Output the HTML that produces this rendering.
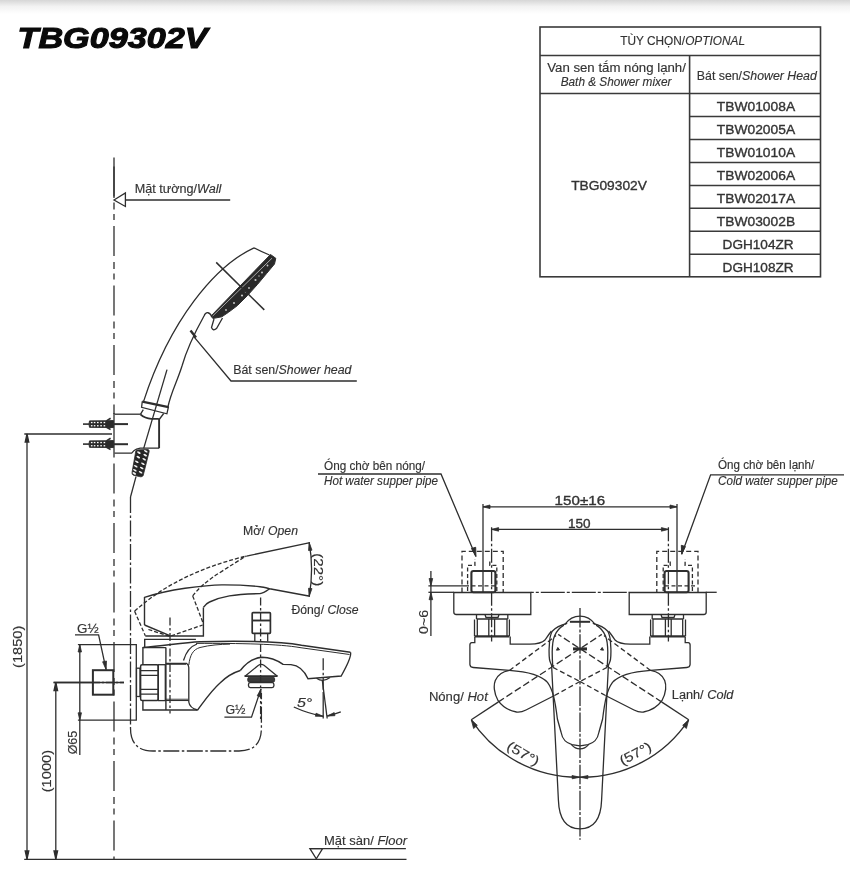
<!DOCTYPE html>
<html><head><meta charset="utf-8">
<style>
html,body{margin:0;padding:0;background:#fff;}
body{width:850px;height:894px;overflow:hidden;position:relative;}
#shade{position:absolute;left:0;top:0;width:850px;height:14px;background:linear-gradient(#d6d6d6,#f2f2f2 45%,#fff);}
svg{position:absolute;left:0;top:0;will-change:transform;}
text{font-family:"Liberation Sans",sans-serif;fill:#333;stroke:#333;stroke-width:0.15;}
.num text, text.num{stroke-width:0.35;}
</style></head><body>
<div id="shade"></div>
<svg width="850" height="894" viewBox="0 0 850 894">
<!-- title -->
<text x="17.5" y="48" font-size="29.6" font-weight="bold" font-style="italic" style="fill:#0a0a0a;stroke:#0a0a0a;stroke-width:1.1" textLength="190" lengthAdjust="spacingAndGlyphs">TBG09302V</text>

<!-- table -->
<g id="table" stroke="#3a3a3a" stroke-width="1.6" fill="none">
<rect x="540" y="27" width="280.5" height="249.8"/>
<line x1="540" y1="55.5" x2="820.5" y2="55.5"/>
<line x1="540" y1="93.5" x2="820.5" y2="93.5"/>
<line x1="689.6" y1="55.5" x2="689.6" y2="276.8"/>
<line x1="689.6" y1="116.5" x2="820.5" y2="116.5"/>
<line x1="689.6" y1="139.5" x2="820.5" y2="139.5"/>
<line x1="689.6" y1="162.5" x2="820.5" y2="162.5"/>
<line x1="689.6" y1="185.5" x2="820.5" y2="185.5"/>
<line x1="689.6" y1="208.3" x2="820.5" y2="208.3"/>
<line x1="689.6" y1="231.2" x2="820.5" y2="231.2"/>
<line x1="689.6" y1="254.2" x2="820.5" y2="254.2"/>
</g>
<g id="tabletext" font-size="12">
<text x="620.3" y="45.3" textLength="124.7" lengthAdjust="spacingAndGlyphs">TÙY CHỌN/<tspan font-style="italic">OPTIONAL</tspan></text>
<text x="547.2" y="71.9" textLength="138.7" lengthAdjust="spacingAndGlyphs">Van sen tắm nóng lạnh/</text>
<text x="560.7" y="86" font-style="italic" textLength="110.7" lengthAdjust="spacingAndGlyphs">Bath &amp; Shower mixer</text>
<text x="696.8" y="80" textLength="120" lengthAdjust="spacingAndGlyphs">Bát sen/<tspan font-style="italic">Shower Head</tspan></text>
<text class="num" x="571.2" y="189.8" font-size="13.4" textLength="75.7" lengthAdjust="spacingAndGlyphs">TBG09302V</text>
<g font-size="13.4" class="num">
<text x="716.8" y="111.2" textLength="78.3" lengthAdjust="spacingAndGlyphs">TBW01008A</text>
<text x="716.8" y="134.2" textLength="78.3" lengthAdjust="spacingAndGlyphs">TBW02005A</text>
<text x="716.8" y="157.2" textLength="78.3" lengthAdjust="spacingAndGlyphs">TBW01010A</text>
<text x="716.8" y="180.2" textLength="78.3" lengthAdjust="spacingAndGlyphs">TBW02006A</text>
<text x="716.8" y="203.1" textLength="78.3" lengthAdjust="spacingAndGlyphs">TBW02017A</text>
<text x="716.8" y="226.0" textLength="78.3" lengthAdjust="spacingAndGlyphs">TBW03002B</text>
<text x="722.6" y="248.9" textLength="71" lengthAdjust="spacingAndGlyphs">DGH104ZR</text>
<text x="722.6" y="271.8" textLength="71" lengthAdjust="spacingAndGlyphs">DGH108ZR</text>
</g>
</g>

<!-- DRAWING -->
<g id="drawing" stroke="#2e2e2e" stroke-width="1.3" fill="none" stroke-linecap="butt">

<!-- wall line -->
<line x1="114" y1="157.5" x2="114" y2="198"/>
<line x1="114" y1="166.5" x2="114" y2="414" stroke-dasharray="30 6 7 4.5 6 6"/>
<line x1="114" y1="413" x2="114" y2="457"/>
<line x1="114" y1="457" x2="114" y2="859.5" stroke-dasharray="30 6 7 4.5 6 6" stroke-dashoffset="53"/>
<!-- wall arrow -->
<line x1="125.5" y1="200" x2="230.2" y2="200"/>
<path d="M114,200 L125.4,193 L125.4,206.5 Z"/>
<!-- floor -->
<line x1="24.2" y1="859.3" x2="406.5" y2="859.3"/>
<line x1="309.9" y1="848.6" x2="405.9" y2="848.6"/>
<path d="M309.9,848.6 L322.6,848.6 L316.3,858.8 Z"/>
<!-- dim 1850 -->
<line x1="24.3" y1="434" x2="112" y2="434"/>
<line x1="27" y1="434" x2="27" y2="859"/>
<path d="M27,434 L25.2,442 L28.8,442 Z" fill="#2e2e2e"/>
<path d="M27,859 L25.2,851 L28.8,851 Z" fill="#2e2e2e"/>
<!-- dim 1000 -->
<line x1="53.6" y1="682.5" x2="124" y2="682.5" stroke-dasharray="none"/>
<line x1="55.8" y1="682.5" x2="55.8" y2="859"/>
<path d="M55.8,682.5 L54,690.5 L57.6,690.5 Z" fill="#2e2e2e"/>
<path d="M55.8,859 L54,851 L57.6,851 Z" fill="#2e2e2e"/>
<!-- shower head -->
<path d="M254,247.8 C 215,266 170,320 143.5,401.6"/>
<path d="M254,247.8 Q262,252 269.5,255"/>
<path d="M270.5,254.5 L275.8,258.3 L274.5,264 L266.6,273.5 L257.6,284.3 L247.5,295.5 L237.5,305.5 L228.5,312.3 L221.8,316.8 L212.9,318.5 L211,316 Z" fill="#2a2a2a" stroke-width="1"/>
<g fill="#c8c8c8" stroke="none"><circle cx="267.5" cy="265.5" r="0.9"/><circle cx="262" cy="272.5" r="1"/><circle cx="255.5" cy="280" r="1.1"/><circle cx="249" cy="288" r="0.9"/><circle cx="242" cy="295.5" r="1.1"/><circle cx="234" cy="303" r="1"/><circle cx="226" cy="310" r="0.9"/><circle cx="259" cy="276" r="0.7"/><circle cx="245.5" cy="292" r="0.7"/></g>
<line x1="272" y1="258.2" x2="212.5" y2="316.2" stroke="#ddd" stroke-width="0.7"/>
<line x1="216.2" y1="262.4" x2="264.3" y2="309.9" stroke-width="1.5"/>
<path d="M212,317 C210,312 206,311 204,316 C199,325 188,345 182,366 C177,382 171,392 167.9,407"/>
<path d="M222.5,318 L216.5,328.5 Q213,331.5 211.5,327.5 L214,319"/>
<!-- leader shower head -->
<path d="M193.8,336.7 L231,381 L356.8,381"/>
<path d="M190.5,330.5 L196,337.5" stroke-width="2.4"/>
<!-- collar -->
<path d="M142.3,401.6 L168.5,407.1" stroke-width="2.2"/>
<path d="M142.3,401.2 L141.6,407.3 L166.9,413.8 L168.5,406.7"/>
<path d="M143.3,409.6 L140.4,414.4 M163.7,413.5 L158.8,420"/>
<path d="M140.4,414.4 Q145,418.5 151.4,418.9 L158.8,418.9" stroke-width="1.9"/>
<!-- bracket -->
<path d="M114.5,414.2 L140.2,414.2"/>
<path d="M159.1,418.7 L159.1,448.2" stroke-width="1.9"/>
<path d="M159.1,448.2 L140.2,448.2 Q136,449 134.2,450.4 L131.7,453.2 L114.5,453.2"/>
<line x1="114" y1="424.1" x2="128" y2="424.1" stroke-width="2"/>
<line x1="114" y1="444.2" x2="128" y2="444.2" stroke-width="2"/>
<!-- hose through -->
<line x1="167" y1="369.6" x2="143.7" y2="448.4"/>
<line x1="136" y1="476.6" x2="130.5" y2="497"/>
<line x1="130.5" y1="497" x2="130.5" y2="728" stroke-dasharray="16 2.5 2.5 2.5"/>
<path d="M130.5,728 Q130.5,751 153,751 L239,751 Q261.4,751 261.4,728 L261.4,693" stroke-dasharray="16 2.5 2.5 2.5"/>
<g>
<line x1="83" y1="424.1" x2="89" y2="424.1" stroke-width="1.6"/>
<path d="M89.5,420.90000000000003 Q88.5,424.1 89.5,427.3 L106,427.40000000000003 L113.5,427.6 L113.5,420.6 L106,420.8 Z" fill="#2a2a2a" stroke-width="1"/>
<path d="M106.5,420.90000000000003 L110.6,418.3 M106.5,427.3 L110.6,429.5" stroke-width="1.6"/>
<g fill="#fff" stroke="none"><rect x="90.9" y="421.90000000000003" width="1.6" height="1.3"/><rect x="90.9" y="425.1" width="1.6" height="1.3"/><rect x="93.8" y="421.90000000000003" width="1.6" height="1.3"/><rect x="93.8" y="425.1" width="1.6" height="1.3"/><rect x="97.0" y="421.90000000000003" width="1.6" height="1.3"/><rect x="97.0" y="425.1" width="1.6" height="1.3"/><rect x="100.3" y="421.90000000000003" width="1.6" height="1.3"/><rect x="100.3" y="425.1" width="1.6" height="1.3"/><rect x="103.6" y="421.90000000000003" width="1.6" height="1.3"/><rect x="103.6" y="425.1" width="1.6" height="1.3"/></g></g>
<g>
<line x1="83" y1="444.1" x2="89" y2="444.1" stroke-width="1.6"/>
<path d="M89.5,440.90000000000003 Q88.5,444.1 89.5,447.3 L106,447.40000000000003 L113.5,447.6 L113.5,440.6 L106,440.8 Z" fill="#2a2a2a" stroke-width="1"/>
<path d="M106.5,440.90000000000003 L110.6,438.3 M106.5,447.3 L110.6,449.5" stroke-width="1.6"/>
<g fill="#fff" stroke="none"><rect x="90.9" y="441.90000000000003" width="1.6" height="1.3"/><rect x="90.9" y="445.1" width="1.6" height="1.3"/><rect x="93.8" y="441.90000000000003" width="1.6" height="1.3"/><rect x="93.8" y="445.1" width="1.6" height="1.3"/><rect x="97.0" y="441.90000000000003" width="1.6" height="1.3"/><rect x="97.0" y="445.1" width="1.6" height="1.3"/><rect x="100.3" y="441.90000000000003" width="1.6" height="1.3"/><rect x="100.3" y="445.1" width="1.6" height="1.3"/><rect x="103.6" y="441.90000000000003" width="1.6" height="1.3"/><rect x="103.6" y="445.1" width="1.6" height="1.3"/></g></g>
<path d="M135.8,451 Q137,449.8 139,449.8 L148,449.5 Q149.6,450 149.2,451.5 L143.2,475.5 Q142.5,477 140.5,476.8 L133.5,475.3 Q131.6,474.5 132,472.5 Z" fill="#262626" stroke-width="0.8"/>
<g fill="#f4f4f4" stroke="none"><ellipse cx="138.9" cy="452.6" rx="2" ry="0.9" transform="rotate(28 138.9 452.6)"/><ellipse cx="138.3" cy="457.1" rx="2" ry="0.9" transform="rotate(28 138.3 457.1)"/><ellipse cx="136.8" cy="461.7" rx="2" ry="0.9" transform="rotate(28 136.8 461.7)"/><ellipse cx="135.8" cy="466.2" rx="2" ry="0.9" transform="rotate(28 135.8 466.2)"/><ellipse cx="134.9" cy="470.3" rx="2" ry="0.9" transform="rotate(28 134.9 470.3)"/><ellipse cx="134.3" cy="473.4" rx="2" ry="0.9" transform="rotate(28 134.3 473.4)"/><ellipse cx="145.8" cy="451.2" rx="2" ry="0.9" transform="rotate(28 145.8 451.2)"/><ellipse cx="145.2" cy="455.1" rx="2" ry="0.9" transform="rotate(28 145.2 455.1)"/><ellipse cx="144.2" cy="459.3" rx="2" ry="0.9" transform="rotate(28 144.2 459.3)"/><ellipse cx="142.9" cy="463.7" rx="2" ry="0.9" transform="rotate(28 142.9 463.7)"/><ellipse cx="141.7" cy="468.0" rx="2" ry="0.9" transform="rotate(28 141.7 468.0)"/><ellipse cx="140.6" cy="472.2" rx="2" ry="0.9" transform="rotate(28 140.6 472.2)"/></g>


<!-- SIDE VIEW FAUCET -->
<path d="M77.9,644.6 L136.3,644.6 L136.3,720.2 L77.9,720.2"/>
<rect x="92.9" y="670.2" width="20.4" height="24.5" stroke-width="2"/>
<line x1="53.6" y1="682.5" x2="92" y2="682.5"/>
<line x1="92" y1="682.5" x2="124" y2="682.5" stroke-dasharray="8 2 2 2"/>
<path d="M75,634.8 L98.6,634.8 L106.1,669.6"/>
<path d="M106.1,669.6 L102.6,661.8 L106.5,661 Z" fill="#2e2e2e" stroke-width="0.8"/>
<line x1="79.8" y1="644.6" x2="79.8" y2="755"/>
<path d="M79.8,644.6 L78.1,652 L81.5,652 Z M79.8,720.2 L78.1,712.8 L81.5,712.8 Z" fill="#2e2e2e" stroke-width="0.8"/>
<rect x="136.5" y="668.2" width="3.5" height="28.3"/>
<rect x="140.6" y="664.7" width="17.6" height="35.9" rx="1.5" stroke-width="1.5"/>
<path d="M140.6,670.6 L158.2,670.6 M140.6,675.3 L158.2,675.3 M140.6,689.4 L158.2,689.4 M140.6,694.1 L158.2,694.1"/>
<rect x="158.2" y="664.7" width="7.1" height="35.9"/>
<path d="M142.9,664.7 L142.9,647.6 L165.9,647.6 M142.9,700.6 L142.9,710 L197.6,710 M165.9,647.6 L165.9,710" stroke-width="1.4"/>
<path d="M144.7,647.6 L144.7,639.4 L195.9,639.4" stroke-width="1.4"/>
<path d="M142.9,647.6 C165,646 182,642.5 200,641.8 C240,640.8 280,641.5 301.5,645.3 L350.4,652.2" stroke-width="1.5"/>
<path d="M196,643.4 C240,643.2 280,644 300,647.6 L349.5,654.5" stroke-width="1"/>
<path d="M350.4,652.2 Q352.2,656.5 341.2,676 L308,678.8 C305,672 300,665.5 291,664.6 L283.1,664.4 C276,659.5 270,657.3 262,657.3 C252,658 246,663 240.3,670.5" stroke-width="1.4"/>
<path d="M316.5,678.2 Q323,682.8 330,677.6"/>

<path d="M245,676.3 L258.5,665.2 Q261.2,663.6 264,665.2 L277.4,676.3"/>
<path d="M244.5,676.2 L277.5,676.2" stroke-width="1.8"/>
<rect x="247.8" y="677.2" width="26.8" height="4.8" rx="1.5" fill="#3a3a3a" stroke-width="1"/>
<rect x="248.5" y="682.6" width="25.4" height="5" rx="1.8" stroke-width="1.3"/>
<path d="M240.3,670.5 C232,673 226,677 220,683 C210,692 203,703 197.6,710" stroke-width="1.4"/>
<path d="M165.9,663.3 L186.5,663.3 Q188.8,664.5 188.8,667.6 L188.8,702 C189.3,706.5 192,708.5 197.6,710"/>
<path d="M165.9,700.4 L188.8,700.4"/>
<path d="M165.9,664.5 L186,664.5 M165.9,699.2 L188,699.2" stroke-width="0.8"/>
<path d="M183.5,660.5 C186,652 190,646.5 197,644"/>
<path d="M188.8,665 C190,655 193,649.5 200,647.5 C210,645 220,644.3 230,644.1" stroke-width="1"/>
<line x1="170" y1="617.5" x2="170" y2="713.5" stroke-dasharray="8 2.5 2.5 2.5"/>
<rect x="252.2" y="612.6" width="18.2" height="20.8" rx="0.8" stroke-width="1.7"/>
<line x1="252.2" y1="620.5" x2="270.4" y2="620.5" stroke-width="1.9"/>
<path d="M254.8,633.8 L254.8,641.5 M267.7,633.8 L267.7,641.5"/>
<line x1="260.6" y1="597.4" x2="260.6" y2="720" stroke-dasharray="8 2.5 2.5 2.5"/>
<!-- handle closed -->
<path d="M144.5,625 L144.5,597.4 C155,594 170,590.5 185,588.3 C198,586.5 210,585 221.8,584.9 C235,584.8 248,585.5 260,586.7 C263,587 266,587.8 269.6,588.7 L310,596.2" stroke-width="1.4"/>
<path d="M203.4,607.4 C205,605 207,603 209.5,602 C216,599 223,597 229.4,595.9 C240,594 250,593.8 260,593.6 C264,593 267,590.5 269.6,588.7" stroke-width="1.4"/>
<path d="M144.5,625 L169.8,635.6 M203.4,607.4 L203.4,636 L145.3,636" stroke-width="1.4"/>
<!-- handle open -->
<path d="M134.6,611.2 C170,579 214,564 246.2,556.1 L249,555.6 M134.6,611.2 L145.3,635.7 M192.7,595.9 C198,589 206,581 221.8,571.4 C230,566 238,561 244.7,556.9 L246.2,556.1 M192.7,595.9 L202.7,621.9 M148.4,629.5 L169.8,636.4 L202.7,625" stroke-dasharray="4 2"/>
<path d="M248.8,555.6 L310,542.6"/>
<path d="M309.2,542.6 Q314,569.5 309.2,596.2"/>
<path d="M309.2,542.6 L308.5,550.5 L312,550.2 Z M309.2,596.2 L308.5,588.3 L312,588.6 Z" fill="#2e2e2e" stroke-width="0.8"/>
<!-- 5 deg -->
<line x1="323.2" y1="658.3" x2="323.2" y2="692" stroke-dasharray="12 2.5 2.5 2.5"/>
<line x1="323.2" y1="692" x2="323.2" y2="718.5"/>
<line x1="322.3" y1="680.5" x2="327.2" y2="718.5"/>
<path d="M293.8,707 Q308,713.5 323.2,716.3 M327.2,716 Q334,714.5 340.8,711.9"/>
<path d="M323.2,716.3 L316,713.2 L315.4,716.3 Z M327.2,716 L334.2,712.6 L334.9,715.7 Z" fill="#2e2e2e" stroke-width="0.8"/>
<!-- G1/2 2 -->
<path d="M224.4,717.1 L251.5,717.1 L261,688.9"/>
<path d="M261,688.9 L260.6,697 L257.2,695.8 Z" fill="#2e2e2e" stroke-width="0.8"/>
<!-- FRONT VIEW -->
<g id="fhalf">
<path d="M462,592.5 L462,551.3 L503.2,551.3 L503.2,592.5" stroke-dasharray="5 3"/>
<path d="M467.6,591 L467.6,565.4 L474.9,565.4 L474.9,559 M496.8,591 L496.8,565.4 L489.8,565.4 L489.8,559" stroke-dasharray="4 2.5"/>
<rect x="471.4" y="571" width="24" height="21.3" rx="2" stroke-width="2.1"/>
<line x1="465" y1="585.9" x2="497" y2="585.9" stroke-dasharray="4 2.5"/>
<line x1="483" y1="504" x2="483" y2="592.5"/>
<line x1="491.6" y1="527.2" x2="491.6" y2="641.6" stroke-dasharray="14 2.5 2.5 2.5"/>
<path d="M453.8,592.5 L530.8,592.5 L530.8,614.5 L456.3,614.5 Q453.8,614.5 453.8,612 Z"/>
<path d="M476.5,614.5 L476.5,619 M507.8,614.5 L507.8,619 M485,614.5 L486,617.5 L498,617.5 L499,614.5"/>
<path d="M476.5,619 L507.8,619 M474.5,619.5 L474.5,636.2 M509.4,619.5 L509.4,636.2 M477.3,619.5 L477.3,636 M507,619.5 L507,636 M488.8,619 L488.8,636 M494.6,619 L494.6,636"/>
<path d="M474.5,636.3 L509.4,636.3" stroke-width="2.2"/>
<path d="M510.2,636.5 L510.2,644.2 L530,644.2 C538,644 542,643 545,640 C547,637 549,634 551.5,631"/>
<path d="M474.8,637 L474.8,642.6 L471.8,642.6 Q469.9,642.8 469.9,645 L469.9,664.5 Q470.2,667.4 473.2,667.5 L509.4,670.4 C525,671.5 540,674 547.5,682.4 C553,690 555,700 557.4,719 L561,732 C562.5,740 566,743 572,744.6 L580,745.8"/>
<path d="M571.7,744.8 Q575,748.8 580,748.8"/>
<path d="M564.8,624.4 C568.5,619.5 573.5,616.2 580,616.2"/>
<path d="M569.9,621.8 L580,621.8" stroke-width="2"/>
<path d="M567.2,623.4 C563,624.5 556,627 552.5,631 C550.5,634 550,637 549.6,641 L549.1,649 C549,653 549.2,657 549.5,659.5 C550,662 551,663.5 551.6,665.5 L558.4,800 C559,818 566,828.8 580,828.8"/>
<path d="M563.9,625.1 C559,628 556.5,631 554.5,636 C552.8,640 552.3,645 552.2,652 C552.2,658 552.4,662 552.8,667"/>
<path d="M509.4,670.4 C503,671.5 497.5,675 495.3,680.5 C493.5,685 493.7,693 498.1,700.7 C501.5,705.5 507,710.3 516.5,712 C519.5,712.4 523,711.5 526,710 L554.5,695.5"/>
<path d="M554.5,695.5 L580,681.5" stroke-dasharray="5 3"/>
<path d="M607,667.4 L580,681.5" stroke-dasharray="5 3"/>
<path d="M471.3,719.8 L498.1,702.1"/>
<path d="M498.1,702.1 L601.8,634.4" stroke-dasharray="7 3"/>
<path d="M509.4,670.4 L550.4,640 L556,635.5" stroke-dasharray="5 3"/>
<path d="M471.3,719.8 A128.2,128.2 0 0 0 580,777.2"/>
<path d="M471.3,719.8 L473.6,728.5 L477.3,725.3 Z" fill="#2e2e2e" stroke-width="0.8"/>
<path d="M580,777.2 L572,775.5 L572.2,778.8 Z" fill="#2e2e2e" stroke-width="0.8"/>
<path d="M557.8,647.5 L556.5,650.2 L559.5,649.8 Z" fill="#2e2e2e" stroke-width="1"/>
<path d="M573,648.9 L580,648.9" stroke-width="3"/>
</g>
<use href="#fhalf" transform="translate(1160,0) scale(-1,1)"/>
<line x1="580" y1="608.1" x2="580" y2="839.8" stroke-dasharray="19.5 1.8 3 1.8"/>
<line x1="530.8" y1="592.3" x2="629.2" y2="592.3" stroke-dasharray="24 2 3 2" stroke-dashoffset="-10"/>
<line x1="705.7" y1="592.3" x2="716.7" y2="592.3"/>
<!-- dims top -->
<line x1="483" y1="506.8" x2="677" y2="506.8"/>
<path d="M483,506.8 L490,505 L490,508.6 Z M677,506.8 L670,505 L670,508.6 Z" fill="#2e2e2e" stroke-width="0.8"/>
<line x1="491.6" y1="529.4" x2="668.4" y2="529.4"/>
<path d="M491.6,529.4 L498.6,527.6 L498.6,531.2 Z M668.4,529.4 L661.4,527.6 L661.4,531.2 Z" fill="#2e2e2e" stroke-width="0.8"/>
<!-- leaders -->
<path d="M318,474 L441,474 L475.9,556.4"/>
<path d="M475.9,556.4 L471.5,548.5 L475.7,547.3 Z" fill="#2e2e2e" stroke-width="1"/>
<path d="M844,474.9 L710.6,474.9 L681.7,554.2"/>
<path d="M681.7,554.2 L681.3,545.3 L685.4,546.6 Z" fill="#2e2e2e" stroke-width="1"/>
<!-- 0~6 -->
<line x1="428.4" y1="585.9" x2="465" y2="585.9"/>
<line x1="428.4" y1="592.3" x2="453.8" y2="592.3"/>
<line x1="430.9" y1="571" x2="430.9" y2="636"/>
<path d="M430.9,585.9 L429.1,578.5 L432.7,578.5 Z M430.9,592.3 L429.1,599.7 L432.7,599.7 Z" fill="#2e2e2e" stroke-width="0.8"/>
<!-- screws horizontal ext -->
</g>

<g id="ltext" stroke="none" font-size="12">
<text x="134.8" y="192.9" textLength="86.6" lengthAdjust="spacingAndGlyphs">Mặt tường/<tspan font-style="italic">Wall</tspan></text>
<text x="233.2" y="373.8" textLength="118.3" lengthAdjust="spacingAndGlyphs">Bát sen/<tspan font-style="italic">Shower head</tspan></text>
<text x="324" y="845" textLength="83" lengthAdjust="spacingAndGlyphs">Mặt sàn/ <tspan font-style="italic">Floor</tspan></text>
<text transform="translate(22.3,667.9) rotate(-90)" font-size="12.3" textLength="42.2" lengthAdjust="spacingAndGlyphs">(1850)</text>
<text transform="translate(50.5,792.3) rotate(-90)" font-size="12.3" textLength="42.4" lengthAdjust="spacingAndGlyphs">(1000)</text>
<text transform="translate(76.6,754.3) rotate(-90)" font-size="12.3" textLength="23.5" lengthAdjust="spacingAndGlyphs">Ø65</text>

<text x="324" y="470" textLength="101" lengthAdjust="spacingAndGlyphs">Óng chờ bên nóng/</text>
<text x="324" y="485" font-style="italic" textLength="114" lengthAdjust="spacingAndGlyphs">Hot water supper pipe</text>
<text x="718" y="469" textLength="96.3" lengthAdjust="spacingAndGlyphs">Óng chờ bên lạnh/</text>
<text x="718" y="485.2" font-style="italic" textLength="119.8" lengthAdjust="spacingAndGlyphs">Cold water supper pipe</text>
<text class="num" x="554.6" y="504.8" font-size="13.2" textLength="50.5" lengthAdjust="spacingAndGlyphs">150±16</text>
<text class="num" x="568" y="527.5" font-size="13" textLength="22.6" lengthAdjust="spacingAndGlyphs">150</text>
<text transform="translate(428.4,633.9) rotate(-90)" font-size="12.3" textLength="24" lengthAdjust="spacingAndGlyphs">0~6</text>

<text x="243" y="535" textLength="55" lengthAdjust="spacingAndGlyphs">Mở/ <tspan font-style="italic">Open</tspan></text>
<text x="291.5" y="613.8" textLength="67.1" lengthAdjust="spacingAndGlyphs">Đóng/ <tspan font-style="italic">Close</tspan></text>
<text transform="translate(313.8,553.2) rotate(90)" font-size="12.5" textLength="33" lengthAdjust="spacingAndGlyphs">(22°)</text>
<text x="77" y="633" font-size="12.5" textLength="21.6" lengthAdjust="spacingAndGlyphs">G½</text>
<text x="225.4" y="714.4" font-size="12.5" textLength="20.1" lengthAdjust="spacingAndGlyphs">G½</text>
<text x="296.9" y="706.5" font-size="12.5" textLength="15.3" lengthAdjust="spacingAndGlyphs" font-style="italic">5°</text>

<text x="428.9" y="701.2" textLength="58.9" lengthAdjust="spacingAndGlyphs">Nóng/ <tspan font-style="italic">Hot</tspan></text>
<text x="671.8" y="698.8" textLength="61.6" lengthAdjust="spacingAndGlyphs">Lạnh/ <tspan font-style="italic">Cold</tspan></text>
<text transform="translate(505.8,748.8) rotate(30)" font-size="13.3" textLength="35" lengthAdjust="spacingAndGlyphs">(57°)</text>
<text transform="translate(622.5,765.5) rotate(-28)" font-size="13.3" textLength="34" lengthAdjust="spacingAndGlyphs">(57°)</text>
</g>
</svg>
</body></html>
